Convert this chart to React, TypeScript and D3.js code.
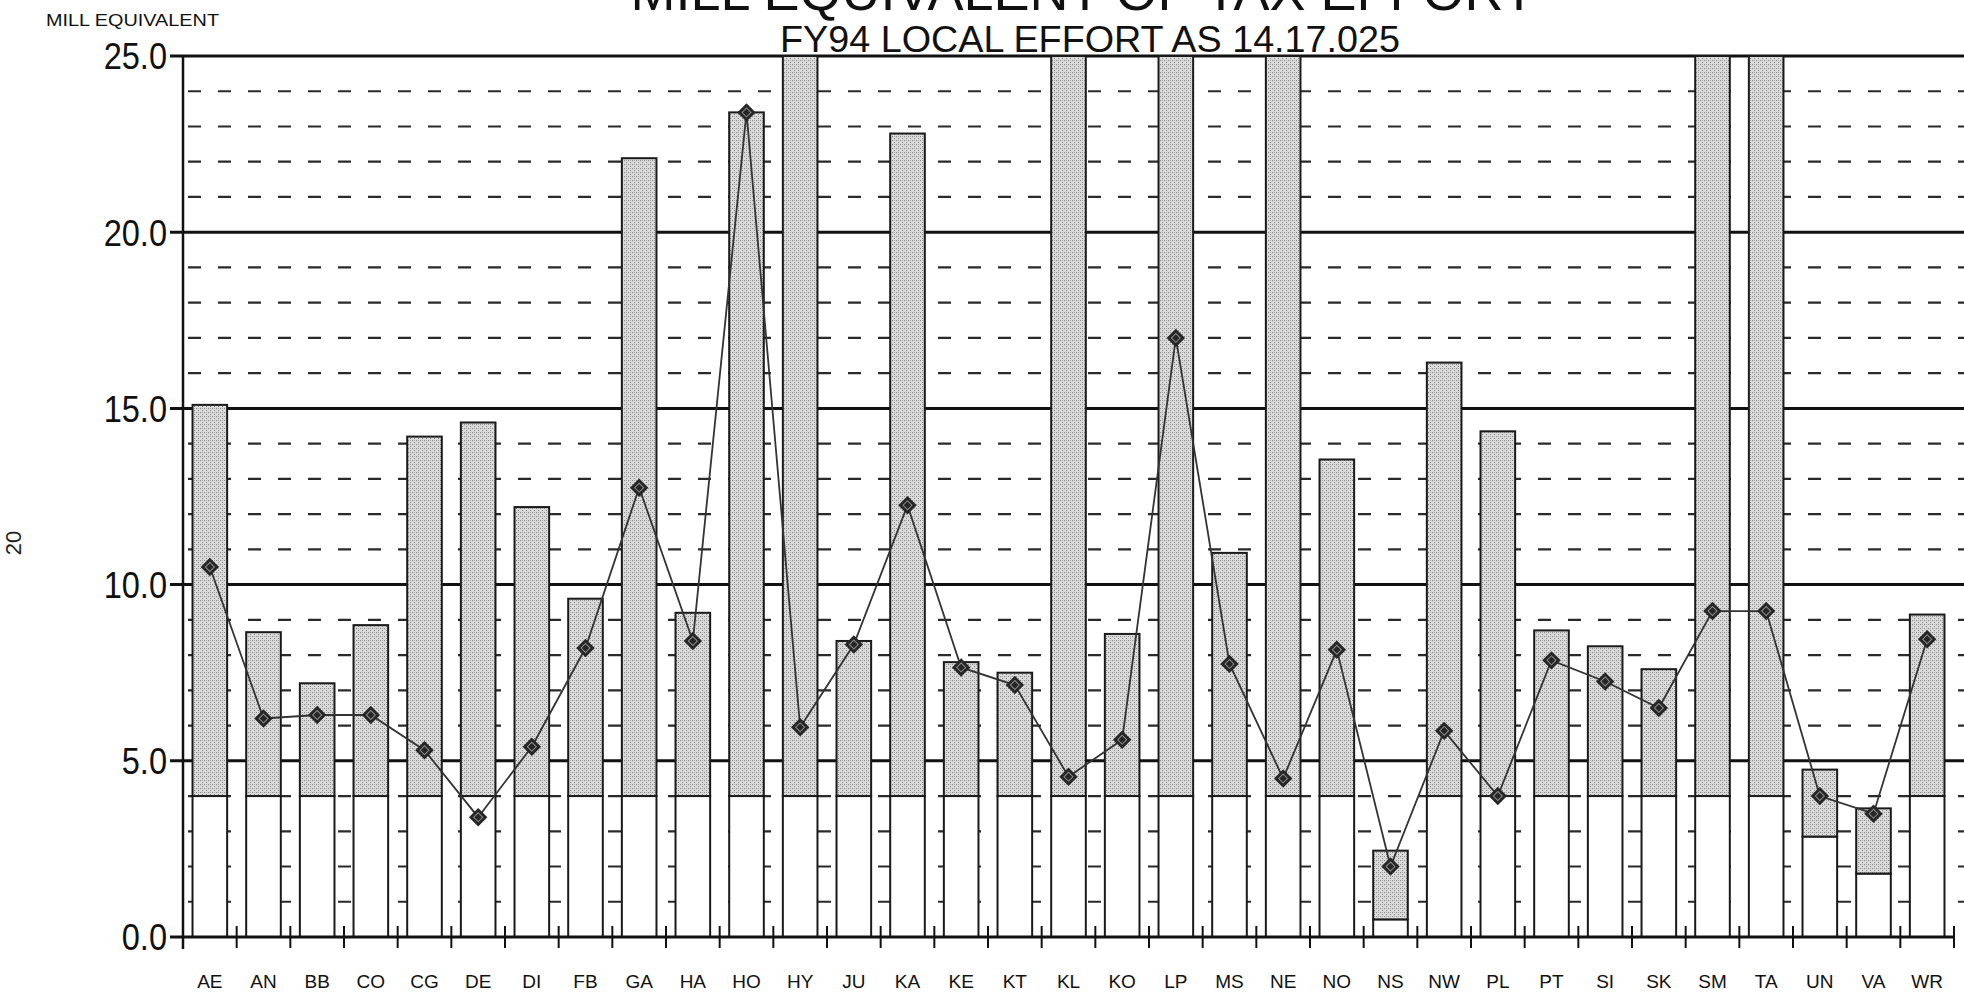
import React from 'react'
import * as d3 from 'd3'

const categories = [
  'AE', 'AN', 'BB', 'CO', 'CG', 'DE', 'DI', 'FB', 'GA', 'HA', 'HO',
  'HY', 'JU', 'KA', 'KE', 'KT', 'KL', 'KO', 'LP', 'MS', 'NE', 'NO',
  'NS', 'NW', 'PL', 'PT', 'SI', 'SK', 'SM', 'TA', 'UN', 'VA', 'WR',
]

// bottom of the shaded range
const rangeLow = [
  4, 4, 4, 4, 4, 4, 4, 4, 4, 4, 4,
  4, 4, 4, 4, 4, 4, 4, 4, 4, 4, 4,
  0.5, 4, 4, 4, 4, 4, 4, 4, 2.85, 1.8, 4,
]

// top of the shaded range (25 = runs off the top of the chart)
const rangeHigh = [
  15.1, 8.65, 7.2, 8.85, 14.2, 14.6, 12.2, 9.6, 22.1, 9.2, 23.4,
  25, 8.4, 22.8, 7.8, 7.5, 25, 8.6, 25, 10.9, 25, 13.55,
  2.45, 16.3, 14.35, 8.7, 8.25, 7.6, 25, 25, 4.75, 3.65, 9.15,
]

const effort = [
  10.5, 6.2, 6.3, 6.3, 5.3, 3.4, 5.4, 8.2, 12.75, 8.4, 23.4,
  5.95, 8.3, 12.25, 7.65, 7.15, 4.55, 5.6, 17.0, 7.75, 4.5, 8.15,
  2.0, 5.85, 4.0, 7.85, 7.25, 6.5, 9.25, 9.25, 4.0, 3.5, 8.45,
]

const yTicks = [0, 5, 10, 15, 20, 25]
const minorTicks = d3.range(1, 25).filter((v) => v % 5 !== 0)

const title = 'MILL EQUIVALENT OF TAX EFFORT'
const subtitle = 'FY94 LOCAL EFFORT AS 14.17.025'
const yTitle = 'MILL EQUIVALENT'
const pageNo = '20'

const W = 1964
const H = 997
const font = "'Liberation Sans', Arial, sans-serif"

const App = () => {
  const x = d3.scaleBand().domain(categories).range([183, 1954]).padding(0)
  const y = d3.scaleLinear().domain([0, 25]).range([937, 56])
  const bw = x.bandwidth() * 0.645
  const cx = (c) => x(c) + x.bandwidth() / 2

  const pts = categories.map((c, i) => [cx(c), y(effort[i])])
  const line = d3.line()(pts)
  const diamond = d3.symbol(d3.symbolSquare, 170)()
  const inner = d3.symbol(d3.symbolSquare, 40)()

  const boundaries = d3.range(1, categories.length + 1).map((i) => 183 + i * x.step())

  return (
    <svg width={W} height={H} style={{ position: 'absolute', left: 0, top: 0, background: '#fff' }}>
      <defs>
        <pattern id='stipple' width='4' height='4' patternUnits='userSpaceOnUse'>
          <rect width='4' height='4' fill='#dadada' />
          <rect x='0' y='0' width='1' height='1' fill='#858585' />
          <rect x='2' y='2' width='1' height='1' fill='#858585' />
          <rect x='2' y='0' width='1' height='1' fill='#acacac' />
        </pattern>
      </defs>

      {/* titles (main title runs off the top edge, as on the scan) */}
      <text x={1083} y={10} textAnchor='middle' fontFamily={font} fontSize={54} fill='#111'>
        {title}
      </text>
      <text x={1090} y={52} textAnchor='middle' fontFamily={font} fontSize={36}
        textLength={620} lengthAdjust='spacingAndGlyphs' fill='#111'>
        {subtitle}
      </text>
      <text x={46} y={26} fontFamily={font} fontSize={17} textLength={173}
        lengthAdjust='spacingAndGlyphs' fill='#111'>
        {yTitle}
      </text>
      <text transform='translate(4,543) rotate(-90)' textAnchor='middle' fontFamily={font}
        fontSize={22} fill='#222' dy='0.75em'>
        {pageNo}
      </text>

      {/* minor dashed gridlines */}
      {minorTicks.map((v) => (
        <line key={'m' + v} x1={188} x2={W} y1={y(v)} y2={y(v)} stroke='#2a2a2a'
          strokeWidth={2.2} strokeDasharray='13 17' />
      ))}
      {/* major gridlines */}
      {yTicks.filter((v) => v > 0).map((v) => (
        <line key={'M' + v} x1={170} x2={W} y1={y(v)} y2={y(v)} stroke='#111' strokeWidth={3} />
      ))}

      {/* bars */}
      {categories.map((c, i) => {
        const x0 = cx(c) - bw / 2
        return (
          <g key={c}>
            <rect x={x0} y={y(rangeLow[i])} width={bw} height={y(0) - y(rangeLow[i])}
              fill='#fff' stroke='#1a1a1a' strokeWidth={2} />
            <rect x={x0} y={y(rangeHigh[i])} width={bw} height={y(rangeLow[i]) - y(rangeHigh[i])}
              fill='url(#stipple)' stroke='#1a1a1a' strokeWidth={2} />
          </g>
        )
      })}

      {/* axes */}
      <line x1={170} x2={1954} y1={y(0)} y2={y(0)} stroke='#111' strokeWidth={3} />
      <line x1={183} x2={183} y1={y(25)} y2={y(0) + 12} stroke='#111' strokeWidth={2.5} />
      {boundaries.map((bx, i) => (
        <line key={'t' + i} x1={bx} x2={bx} y1={y(0) - 11} y2={y(0) + 11} stroke='#111' strokeWidth={2} />
      ))}
      {yTicks.map((v) => (
        <text key={'yl' + v} transform={`translate(167,${y(v)}) scale(0.88,1)`} dy='0.36em'
          textAnchor='end' fontFamily={font} fontSize={37} fill='#111'>
          {v.toFixed(1)}
        </text>
      ))}
      {categories.map((c) => (
        <text key={'xl' + c} x={cx(c)} y={988} textAnchor='middle' fontFamily={font}
          fontSize={19} fill='#111'>
          {c}
        </text>
      ))}

      {/* effort line */}
      <path d={line} fill='none' stroke='#333' strokeWidth={1.8} />
      {pts.map(([px, py], i) => (
        <g key={'p' + i} transform={`translate(${px},${py}) rotate(45)`}>
          <path d={diamond} fill='#262626' />
          <path d={inner} fill='none' stroke='#8a8a8a' strokeWidth={1} />
        </g>
      ))}
    </svg>
  )
}

export default App
